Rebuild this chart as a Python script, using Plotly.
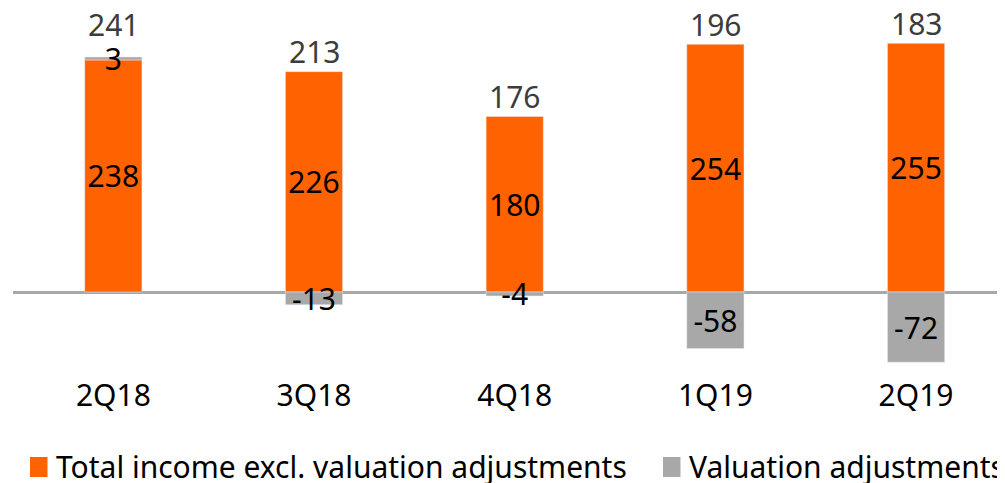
import plotly.graph_objects as go

categories = ["2Q18", "3Q18", "4Q18", "1Q19", "2Q19"]
income_excl = [238, 226, 180, 254, 255]
valuation_adj = [3, -13, -4, -58, -72]
totals = [241, 213, 176, 196, 183]
series_names = ["Total income excl. valuation adjustments", "Valuation adjustments"]

ORANGE = "#FF6200"
GREY = "#A8A8A8"
FONT = "Noto Sans"
FS = 30

fig = go.Figure()
fig.add_trace(go.Bar(
    x=categories, y=income_excl, name=series_names[0], marker_color=ORANGE,
    text=[str(v) for v in income_excl], textposition="inside", insidetextanchor="middle",
    constraintext="none", textangle=0, textfont=dict(family=FONT, size=FS, color="#000000"),
    width=0.285, showlegend=False,
))
fig.add_trace(go.Bar(
    x=categories, y=valuation_adj, name=series_names[1], marker_color=GREY,
    text=[str(v) for v in valuation_adj], textposition="inside", insidetextanchor="middle",
    constraintext="none", textangle=0, textfont=dict(family=FONT, size=FS, color="#000000"),
    cliponaxis=False, width=0.285, showlegend=False,
))

# totals placed above the positive stack
pos_top = [a + max(b, 0) for a, b in zip(income_excl, valuation_adj)]
shifts = [33, 20, 20, 20, 20]
for c, top, t, s in zip(categories, pos_top, totals, shifts):
    fig.add_annotation(x=c, y=top, text=str(t), showarrow=False, yshift=s,
                       yanchor="middle", font=dict(family=FONT, size=FS, color="#3C3C3C"))

# manual legend
legend_items = [(series_names[0], ORANGE, 0.017), (series_names[1], GREY, 0.650)]
for name, col, x0 in legend_items:
    fig.add_shape(type="rect", xref="paper", yref="paper",
                  x0=x0, x1=x0 + 0.0175, y0=-0.2795, y1=-0.2247,
                  fillcolor=col, line_width=0)
    fig.add_annotation(xref="paper", yref="paper", x=x0 + 0.024, y=-0.252,
                       text=name, showarrow=False, xanchor="left", yanchor="middle",
                       font=dict(family=FONT, size=FS, color="#000000"))

fig.update_layout(
    width=1005, height=483,
    margin=dict(l=5, r=0, t=2, b=116),
    barmode="relative",
    plot_bgcolor="white", paper_bgcolor="white",
    showlegend=False,
    font=dict(family=FONT, size=FS, color="#000000"),
)
fig.update_xaxes(type="category", range=[-0.5, 4.483], showgrid=False, showline=False,
                 ticks="", tickfont=dict(family=FONT, size=FS, color="#000000"))
fig.update_yaxes(range=[-85.1, 289.2], showgrid=False, showticklabels=False,
                 zeroline=True, zerolinecolor="#A8A8A8", zerolinewidth=3)

fig.write_html("out.html")
